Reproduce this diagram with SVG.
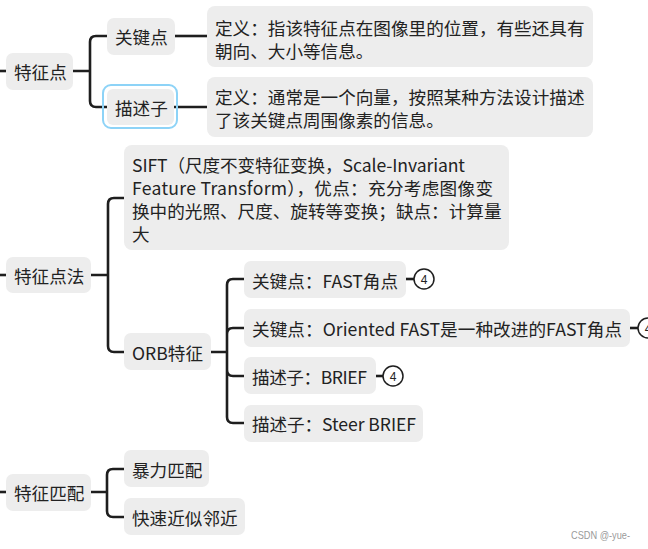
<svg xmlns="http://www.w3.org/2000/svg" width="648" height="549" viewBox="0 0 648 549">
<style>
.box{fill:#ededed}
.t{font-family:"Noto Sans CJK SC","Microsoft YaHei",sans-serif;font-size:17.6px;fill:#222;dominant-baseline:central}
.c{fill:none;stroke:#1e1e1e;stroke-width:2.6;stroke-linecap:butt}
.badge{fill:#fff;stroke:#1e1e1e;stroke-width:1.5}
.bt{font-family:"Liberation Sans",Arial,sans-serif;font-size:12px;fill:#222;text-anchor:middle;dominant-baseline:central}
.wm{font-family:"Liberation Sans",Arial,sans-serif;font-size:11px;fill:#9a9a9a;dominant-baseline:central}
</style>
<rect width="648" height="549" fill="#fff"/>
<g id="connectors">
<path class="c" d="M0 71 H6"/>
<path class="c" d="M0 275 H6"/>
<path class="c" d="M0 492 H6"/>
<path class="c" d="M73 71 H90 M90 71 V42 Q90 36 96 36 H107 M90 71 V101 Q90 107 96 107 H107"/>
<path class="c" d="M175 36 H207"/>
<path class="c" d="M174 107 H207"/>
<path class="c" d="M91 275 H108 M108 275 V204 Q108 198 114 198 H124 M108 275 V346 Q108 352 114 352 H124"/>
<path class="c" d="M211 352 H227 M227 352 V285 Q227 279 233 279 H244 M227 352 V334 Q227 328 233 328 H244 M227 352 V370 Q227 376 233 376 H244 M227 352 V417 Q227 423 233 423 H244"/>
<path class="c" d="M406 279 H414"/>
<path class="c" d="M630 328 H638"/>
<path class="c" d="M376 376 H383"/>
<path class="c" d="M91 492 H107 M107 492 V475 Q107 469 113 469 H124 M107 492 V511 Q107 517 113 517 H124"/>
</g>
<g id="n-tezhengdian">
<rect class="box" x="6" y="53" width="67" height="37" rx="7"/>
<text class="t" x="14" y="71">特征点</text>
</g>
<g id="n-guanjiandian">
<rect class="box" x="107" y="18" width="68" height="37" rx="7"/>
<text class="t" x="115" y="36">关键点</text>
</g>
<g id="n-miaoshuzi">
<rect x="103" y="85" width="74" height="43" rx="8" fill="none" stroke="#8dd3f7" stroke-width="2"/>
<rect class="box" x="107" y="89" width="67" height="36" rx="6"/>
<text class="t" x="115" y="107">描述子</text>
</g>
<g id="n-def1">
<rect class="box" x="207" y="6" width="386" height="61" rx="8"/>
<text class="t" x="215" y="27">定义：指该特征点在图像里的位置，有些还具有</text>
<text class="t" x="215" y="50">朝向、大小等信息。</text>
</g>
<g id="n-def2">
<rect class="box" x="207" y="77" width="386" height="60" rx="8"/>
<text class="t" x="215" y="96">定义：通常是一个向量，按照某种方法设计描述</text>
<text class="t" x="215" y="119">了该关键点周围像素的信息。</text>
</g>
<g id="n-tezhengdianfa">
<rect class="box" x="6" y="257" width="85" height="36" rx="7"/>
<text class="t" x="14" y="275">特征点法</text>
</g>
<g id="n-sift">
<rect class="box" x="124" y="145" width="385" height="105" rx="8"/>
<text class="t" x="132" y="164" textLength="333" lengthAdjust="spacing">SIFT（尺度不变特征变换，Scale-Invariant</text>
<text class="t" x="132" y="187" textLength="361" lengthAdjust="spacing">Feature Transform），优点：充分考虑图像变</text>
<text class="t" x="132" y="210">换中的光照、尺度、旋转等变换；缺点：计算量</text>
<text class="t" x="132" y="233">大</text>
</g>
<g id="n-orb">
<rect class="box" x="124" y="333" width="87" height="37" rx="7"/>
<text class="t" x="132" y="352" textLength="71" lengthAdjust="spacing">ORB特征</text>
</g>
<g id="n-fast">
<rect class="box" x="244" y="261" width="162" height="37" rx="7"/>
<text class="t" x="252" y="280" textLength="146" lengthAdjust="spacing">关键点：FAST角点</text>
</g>
<g id="n-oriented">
<rect class="box" x="244" y="309" width="386" height="38" rx="7"/>
<text class="t" x="252" y="328" textLength="370" lengthAdjust="spacing">关键点：Oriented FAST是一种改进的FAST角点</text>
</g>
<g id="n-brief">
<rect class="box" x="244" y="357" width="132" height="37" rx="7"/>
<text class="t" x="252" y="376" textLength="115" lengthAdjust="spacing">描述子：BRIEF</text>
</g>
<g id="n-steer">
<rect class="box" x="244" y="405" width="179" height="37" rx="7"/>
<text class="t" x="252" y="423" textLength="164" lengthAdjust="spacing">描述子：Steer BRIEF</text>
</g>
<g id="b-fast">
<circle class="badge" cx="424" cy="279" r="10"/>
<text class="bt" x="424" y="280">4</text>
</g>
<g id="b-oriented">
<circle class="badge" cx="648" cy="328" r="10"/>
<text class="bt" x="648" y="329">4</text>
</g>
<g id="b-brief">
<circle class="badge" cx="393" cy="376" r="10"/>
<text class="bt" x="393" y="377">4</text>
</g>
<g id="n-tezhengpipei">
<rect class="box" x="6" y="474" width="85" height="37" rx="7"/>
<text class="t" x="14" y="492">特征匹配</text>
</g>
<g id="n-baoli">
<rect class="box" x="124" y="450" width="85" height="37" rx="7"/>
<text class="t" x="132" y="469">暴力匹配</text>
</g>
<g id="n-kuaisu">
<rect class="box" x="124" y="498" width="121" height="37" rx="7"/>
<text class="t" x="132" y="517">快速近似邻近</text>
</g>
<text class="wm" x="571" y="535" textLength="59" lengthAdjust="spacingAndGlyphs">CSDN @-yue-</text>
</svg>
